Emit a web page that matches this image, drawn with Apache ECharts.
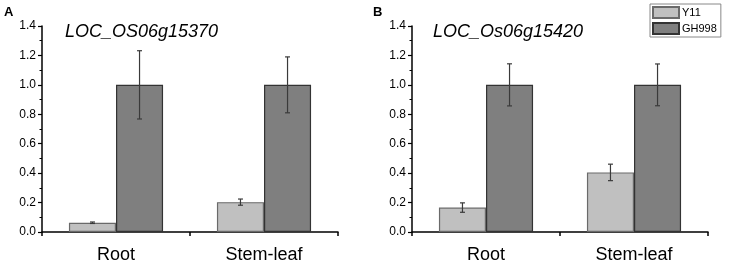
<!DOCTYPE html>
<html><head><meta charset="utf-8">
<script src="https://cdn.jsdelivr.net/npm/echarts@6/dist/echarts.min.js"></script>
<style>html,body{margin:0;padding:0;background:#fff}#c{width:729px;height:266px}</style>
</head><body><div id="c"></div>
<script>
const categories = ['Root', 'Stem-leaf'];
const seriesNames = ['Y11', 'GH998'];
const yTicks = [0, 0.2, 0.4, 0.6, 0.8, 1.0, 1.2, 1.4];
const panelTitles = ['LOC_OS06g15370', 'LOC_Os06g15420'];
const panelLetters = ['A', 'B'];
// Panel A
const aY11 = [0.063, 0.203];
const aY11Err = [0.005, 0.021];
const aGH = [1.0, 1.0];
const aGHErr = [0.232, 0.19];
// Panel B
const bY11 = [0.166, 0.405];
const bY11Err = [0.032, 0.056];
const bGH = [1.0, 1.0];
const bGHErr = [0.143, 0.142];

const panels = [
  {y11: aY11, y11e: aY11Err, gh: aGH, ghe: aGHErr},
  {y11: bY11, y11e: bY11Err, gh: bGH, ghe: bGHErr}
];
const gridLefts = [42, 412];
const BARW = 0.318;
const colors = ['#c0c0c0', '#7f7f7f'];
const borders = ['#6a6a6a', '#333333'];

const grids = [], xAxes = [], yAxes = [], series = [];
panels.forEach((p, i) => {
  grids.push({left: gridLefts[i], top: 26, width: 296, height: 206});
  xAxes.push({
    type: 'category', gridIndex: i, data: categories,
    axisLine: {lineStyle: {color: '#000', width: 1.5}},
    axisTick: {show: true, length: 4, inside: false, lineStyle: {color: '#000', width: 1.5}},
    axisLabel: {color: '#000', fontSize: 18, fontFamily: 'Liberation Sans, Arial', margin: 14}
  });
  yAxes.push({
    type: 'value', gridIndex: i, min: 0, max: 1.4, interval: 0.2,
    axisLine: {show: true, lineStyle: {color: '#000', width: 1.5}},
    axisTick: {show: true, length: 4, lineStyle: {color: '#000', width: 1.2}},
    minorTick: {show: true, splitNumber: 2, length: 2.5, lineStyle: {color: '#000', width: 1}},
    splitLine: {show: false},
    axisLabel: {color: '#000', fontSize: 12, fontFamily: 'Liberation Sans, Arial', margin: 6,
      formatter: v => v.toFixed(1)}
  });
  const vals = [p.y11, p.gh];
  const errs = [p.y11e, p.ghe];
  vals.forEach((v, s) => {
    series.push({
      type: 'bar', name: seriesNames[s], xAxisIndex: i, yAxisIndex: i,
      data: v, barWidth: (BARW * 100) + '%', barGap: '0%',
      itemStyle: {color: colors[s], borderColor: borders[s], borderWidth: 1.2},
      silent: true, z: 2
    });
  });
  vals.forEach((v, s) => {
    series.push({
      type: 'custom', xAxisIndex: i, yAxisIndex: i, z: 5, silent: true,
      data: v.map((val, k) => [k, val, errs[s][k]]),
      renderItem: function (params, api) {
        const k = api.value(0), val = api.value(1), e = api.value(2);
        const band = api.size([1, 0])[0];
        const off = (s === 0 ? -1 : 1) * band * BARW / 2;
        const top = api.coord([k, val + e]);
        const bot = api.coord([k, val - e]);
        const x = top[0] + off;
        const cw = 2.5;
        const st = {stroke: '#3a3a3a', lineWidth: 1.2};
        return {type: 'group', children: [
          {type: 'line', shape: {x1: x, y1: top[1], x2: x, y2: bot[1]}, style: st},
          {type: 'line', shape: {x1: x - cw, y1: top[1], x2: x + cw, y2: top[1]}, style: st},
          {type: 'line', shape: {x1: x - cw, y1: bot[1], x2: x + cw, y2: bot[1]}, style: st}
        ]};
      }
    });
  });
});

const graphics = [];
panelTitles.forEach((t, i) => {
  graphics.push({type: 'text', left: [65, 433][i], top: 23,
    style: {text: t, font: 'italic 18px "Liberation Sans", Arial', fill: '#000'}});
  graphics.push({type: 'text', left: [4, 373][i], top: 6,
    style: {text: panelLetters[i], font: 'bold 13px "Liberation Sans", Arial', fill: '#000'}});
});

const chart = echarts.init(document.getElementById('c'));
chart.setOption({
  animation: false,
  grid: grids, xAxis: xAxes, yAxis: yAxes, series: series,
  legend: {
    show: true, data: seriesNames, orient: 'vertical', left: 650, top: 4,
    itemWidth: 26, itemHeight: 11, itemGap: 3, padding: [2, 4, 2, 2],
    borderColor: '#888', borderWidth: 1, backgroundColor: '#fff',
    icon: 'rect',
    textStyle: {color: '#000', fontSize: 11, fontFamily: 'Liberation Sans, Arial', padding: [0, 0, 0, -2]}
  },
  graphic: graphics
});
</script></body></html>
